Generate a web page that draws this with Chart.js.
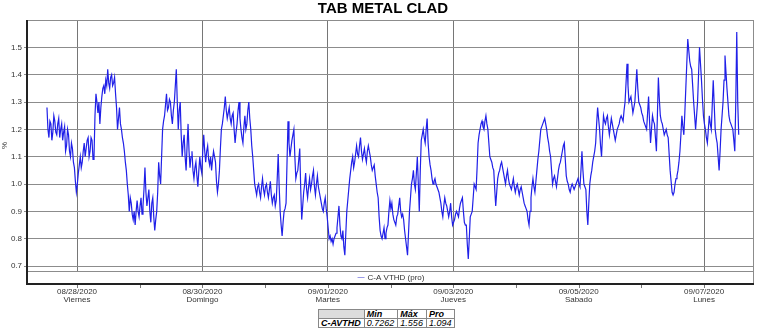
<!DOCTYPE html>
<html>
<head>
<meta charset="utf-8">
<script src="https://cdn.jsdelivr.net/npm/chart.js@4.4.0/dist/chart.umd.min.js"></script>
<style>
  body { margin: 0; background: #fff; font-family: "Liberation Sans", Arial, sans-serif; }
  #wrap { position: relative; width: 762px; height: 333px; }
  #stats { position: absolute; left: 318px; top: 309px; border-collapse: collapse; font-size: 9px; line-height: 8px; }
  #stats td { border: 1px solid #888; padding: 0 3px 0 2px; font-style: italic; color: #000; }
  #stats tr:first-child td { font-weight: bold; }
  #stats td.name { font-weight: bold; }
  #stats td.blank { background: #ddd; }
</style>
</head>
<body>
<div id="wrap">
  <canvas id="chart" width="762" height="305"></canvas>
  <table id="stats"></table>
</div>
<script>
// series: C-A VTHD (pro), one value every 22.5 min from 08/27 12:30
const startHour = 12.5;
const stepHours = 0.375;
const vthd = [
  1.28, 1.2, 1.17, 1.23, 1.22, 1.16, 1.19, 1.25, 1.23, 1.19,
  1.18, 1.22, 1.24, 1.17, 1.2, 1.22, 1.16, 1.19, 1.21, 1.12,
  1.14, 1.2, 1.18, 1.12, 1.1, 1.15, 1.13, 1.08, 1.06, 1.01,
  0.97, 1.0, 1.04, 1.07, 1.1, 1.06, 1.08, 1.12, 1.15, 1.1,
  1.13, 1.16, 1.17, 1.1, 1.12, 1.17, 1.16, 1.09, 1.1, 1.25,
  1.33, 1.3, 1.26, 1.3, 1.22, 1.28, 1.32, 1.35, 1.36, 1.33,
  1.38, 1.36, 1.42, 1.37, 1.35, 1.39, 1.4, 1.36, 1.37, 1.39,
  1.33, 1.28, 1.2, 1.24, 1.28, 1.22, 1.2, 1.17, 1.15, 1.12,
  1.08, 1.05, 1.0, 0.96, 0.9, 0.95, 0.93, 0.89, 0.87, 0.9,
  0.85, 0.9, 0.94, 0.9, 0.88, 0.92, 0.95, 0.89, 0.92, 0.98,
  1.06, 0.97, 0.92, 0.95, 0.98, 0.9, 0.86, 0.93, 0.95, 0.88,
  0.83, 0.87, 0.9, 0.97, 1.08, 1.03, 1.0, 1.1, 1.2, 1.23,
  1.25, 1.29, 1.33, 1.27, 1.28, 1.31, 1.3, 1.25, 1.22, 1.27,
  1.3, 1.36, 1.42, 1.3, 1.2, 1.27, 1.3, 1.18, 1.1, 1.15,
  1.18, 1.1, 1.05, 1.14, 1.22, 1.12, 1.06, 1.1, 1.12, 1.05,
  1.02, 1.06, 1.08, 1.03, 0.99, 1.05, 1.1, 1.06, 1.04, 1.12,
  1.18, 1.12, 1.08, 1.12, 1.14, 1.09, 1.07, 1.1, 1.05, 1.09,
  1.12, 1.1, 1.08, 1.01, 0.97, 1.0, 1.05, 1.13, 1.2, 1.22,
  1.25, 1.28, 1.32, 1.27, 1.24, 1.26, 1.28, 1.24, 1.22, 1.25,
  1.26, 1.2, 1.15, 1.19, 1.22, 1.27, 1.3, 1.24, 1.2, 1.17,
  1.15, 1.21, 1.25, 1.2, 1.22, 1.27, 1.3, 1.24, 1.2, 1.14,
  1.1, 1.05, 1.0, 0.98, 0.96, 0.99, 1.0, 0.97, 0.95, 0.99,
  1.02, 0.98, 0.96, 0.99, 1.0, 0.97, 0.95, 0.98, 1.01, 0.96,
  0.93, 0.95, 0.96, 0.92, 0.94, 1.02, 1.11, 0.99, 0.9, 0.85,
  0.81, 0.86, 0.9, 0.91, 0.93, 1.08, 1.23, 1.15, 1.1, 1.13,
  1.16, 1.18, 1.2, 1.1, 1.02, 1.04, 1.05, 1.09, 1.13, 0.98,
  0.87, 0.92, 0.97, 1.0, 1.04, 0.98, 0.95, 0.99, 1.02, 0.98,
  1.0, 1.03, 1.05, 0.99, 0.96, 1.0, 1.03, 0.99, 0.97, 0.95,
  0.93, 0.91, 0.9, 0.93, 0.95, 0.91, 0.88, 0.84, 0.8, 0.81,
  0.79, 0.8, 0.78, 0.8, 0.81, 0.82, 0.84, 0.88, 0.92, 0.85,
  0.81, 0.8, 0.83, 0.77, 0.74, 0.82, 0.9, 0.94, 0.98, 1.02,
  1.05, 1.08, 1.1, 1.06, 1.08, 1.11, 1.14, 1.11, 1.1, 1.14,
  1.17, 1.12, 1.09, 1.11, 1.13, 1.1, 1.08, 1.12, 1.14, 1.12,
  1.1, 1.07, 1.05, 1.06, 1.07, 1.03, 1.0, 0.97, 0.95, 0.88,
  0.83, 0.81, 0.8, 0.82, 0.84, 0.8, 0.82, 0.84, 0.85, 0.9,
  0.94, 0.91, 0.93, 0.89, 0.87, 0.86, 0.85, 0.88, 0.89, 0.92,
  0.95, 0.9, 0.88, 0.89, 0.87, 0.83, 0.8, 0.77, 0.74, 0.82,
  0.9, 0.95, 1.0, 1.02, 1.05, 1.0, 0.98, 1.04, 1.1, 1.0,
  0.9, 1.05, 1.16, 1.18, 1.2, 1.17, 1.15, 1.2, 1.24, 1.15,
  1.1, 1.07, 1.05, 1.02, 1.0, 1.01, 1.02, 1.0, 0.99, 0.98,
  0.97, 0.95, 0.93, 0.9, 0.88, 0.92, 0.95, 0.93, 0.92, 0.9,
  0.88, 0.9, 0.93, 0.88, 0.85, 0.86, 0.87, 0.89, 0.9, 0.89,
  0.88, 0.91, 0.93, 0.94, 0.95, 0.9, 0.86, 0.85, 0.85, 0.78,
  0.7262, 0.8, 0.88, 0.89, 0.9, 0.95, 1.0, 0.99, 0.98, 1.06,
  1.15, 1.18, 1.2, 1.22, 1.23, 1.21, 1.2, 1.23, 1.25, 1.22,
  1.2, 1.15, 1.1, 1.09, 1.08, 1.06, 1.05, 0.98, 0.92, 0.97,
  1.02, 1.04, 1.05, 1.07, 1.08, 1.06, 1.04, 1.02, 1.0, 1.03,
  1.05, 1.02, 1.0, 0.99, 0.98, 1.0, 1.02, 0.99, 0.97, 0.99,
  1.0, 0.98, 0.96, 0.98, 0.99, 0.97, 0.95, 0.93, 0.92, 0.91,
  0.9, 0.87, 0.85, 0.9, 0.95, 0.99, 1.02, 0.99, 0.97, 1.01,
  1.05, 1.09, 1.12, 1.16, 1.2, 1.21, 1.22, 1.23, 1.24, 1.22,
  1.2, 1.17, 1.15, 1.12, 1.1, 1.05, 1.0, 1.02, 1.03, 1.01,
  0.99, 1.02, 1.05, 1.07, 1.08, 1.1, 1.12, 1.14, 1.15, 1.09,
  1.03, 1.01, 1.0, 0.98, 0.97, 0.99, 1.0, 0.99, 0.98, 0.99,
  1.0, 1.01, 1.02, 1.0, 0.99, 1.05, 1.12, 1.05, 1.0, 0.99,
  0.98, 0.9, 0.85, 0.93, 1.0, 1.03, 1.05, 1.08, 1.1, 1.12,
  1.15, 1.22, 1.28, 1.24, 1.2, 1.14, 1.1, 1.18, 1.25, 1.23,
  1.22, 1.24, 1.25, 1.21, 1.18, 1.21, 1.24, 1.22, 1.2, 1.18,
  1.16, 1.18, 1.2, 1.21, 1.22, 1.24, 1.25, 1.24, 1.23, 1.27,
  1.3, 1.37, 1.44, 1.36, 1.3, 1.31, 1.32, 1.29, 1.26, 1.28,
  1.3, 1.36, 1.42, 1.35, 1.3, 1.29, 1.28, 1.26, 1.25, 1.23,
  1.22, 1.21, 1.2, 1.26, 1.32, 1.23, 1.15, 1.2, 1.25, 1.23,
  1.22, 1.17, 1.12, 1.25, 1.39, 1.31, 1.25, 1.23, 1.22, 1.2,
  1.18, 1.19, 1.2, 1.18, 1.17, 1.11, 1.05, 1.01, 0.97, 0.96,
  0.97, 1.0, 1.02, 1.03, 1.05, 1.08, 1.12, 1.18, 1.25, 1.21,
  1.18, 1.26, 1.35, 1.44, 1.53, 1.49, 1.45, 1.43, 1.42, 1.36,
  1.3, 1.25, 1.2, 1.25, 1.3, 1.4, 1.5, 1.44, 1.38, 1.31,
  1.25, 1.22, 1.2, 1.17, 1.15, 1.2, 1.25, 1.22, 1.2, 1.29,
  1.38, 1.29, 1.2, 1.17, 1.15, 1.1, 1.05, 1.12, 1.2, 1.25,
  1.3, 1.38, 1.47, 1.41, 1.35, 1.3, 1.25, 1.23, 1.22, 1.21,
  1.2, 1.16, 1.12, 1.3, 1.556, 1.3, 1.18
];

// x axis: hours since 08/27/2020 00:00
const xTickHours = [24, 72, 120, 168, 216, 264];
const xTickDates = ["08/28/2020", "08/30/2020", "09/01/2020", "09/03/2020", "09/05/2020", "09/07/2020"];
const xTickDays = ["Viernes", "Domingo", "Martes", "Jueves", "Sabado", "Lunes"];
const yTicks = [0.7, 0.8, 0.9, 1.0, 1.1, 1.2, 1.3, 1.4, 1.5];

const chartTitle = "TAB METAL CLAD";
const seriesName = "C-A VTHD (pro)";
const statName = "C-AVTHD";
const statHeaders = ["Min", "Máx", "Pro"];
const statValues = ["0.7262", "1.556", "1.094"];

const lineColor = "#2020e8";
const fontFamily = "'Liberation Sans', Arial, sans-serif";

const points = vthd.map((v, i) => ({ x: startHour + i * stepHours, y: v }));

// title, frame, legend band and day ticks like the original report
const framePlugin = {
  id: "frame",
  afterDraw(chart) {
    const { ctx, chartArea: a } = chart;
    const bandBottom = a.bottom + 12;
    ctx.save();
    ctx.fillStyle = "#000";
    ctx.font = "bold 15px " + fontFamily;
    ctx.textAlign = "center";
    ctx.textBaseline = "middle";
    ctx.fillText(chartTitle, 383, 9);
    ctx.textAlign = "left";

    ctx.fillStyle = "#8c8c8c";
    ctx.fillRect(a.left, a.top, a.right - a.left, 1);
    ctx.fillRect(a.right - 1, a.top, 1, bandBottom - a.top);
    ctx.fillRect(a.left, a.bottom, a.right - a.left, 1);
    ctx.fillStyle = "#222";
    ctx.fillRect(a.left - 2, a.top, 2, bandBottom - a.top + 2);
    ctx.fillRect(a.left - 2, bandBottom, a.right - a.left + 2, 2);
    // daily ticks under the axis
    const xs = chart.scales.x;
    ctx.fillStyle = "#777";
    for (let h = 24; h <= xs.max; h += 24) {
      const px = Math.round(xs.getPixelForValue(h));
      ctx.fillRect(px, bandBottom + 2, 1, 3);
    }
    // legend inside the band
    ctx.font = "8px " + fontFamily;
    const tw = ctx.measureText(seriesName).width;
    const cx = (a.left + a.right) / 2;
    const ly = a.bottom + 6.5;
    const x0 = cx - (tw + 10) / 2;
    ctx.strokeStyle = "#9a9ae8";
    ctx.lineWidth = 1;
    ctx.beginPath();
    ctx.moveTo(x0, ly);
    ctx.lineTo(x0 + 7, ly);
    ctx.stroke();
    ctx.fillStyle = "#333";
    ctx.fillText(seriesName, x0 + 10, ly);
    ctx.restore();
  }
};

new Chart(document.getElementById("chart"), {
  type: "line",
  data: {
    datasets: [{
      label: seriesName,
      data: points,
      borderColor: lineColor,
      borderWidth: 1.2,
      pointRadius: 0,
      tension: 0,
      fill: false
    }]
  },
  options: {
    responsive: false,
    animation: false,
    devicePixelRatio: 1,
    layout: { padding: { left: 0, right: 8, top: 20, bottom: 0 } },
    plugins: {
      legend: { display: false },
      tooltip: { enabled: false },
      title: { display: false }
    },
    scales: {
      x: {
        type: "linear",
        min: 5.24,
        max: 283.1,
        afterFit: (s) => { s.height = 34; },
        afterBuildTicks: (s) => { s.ticks = xTickHours.map(v => ({ value: v })); },
        grid: { color: "#767676", lineWidth: 1, drawTicks: false },
        border: { display: false },
        ticks: {
          padding: 17,
          maxRotation: 0,
          autoSkip: false,
          color: "#333",
          font: { family: fontFamily, size: 8, lineHeight: 1 },
          callback: (v) => {
            const i = xTickHours.indexOf(v);
            return i < 0 ? "" : [xTickDates[i], xTickDays[i]];
          }
        }
      },
      y: {
        min: 0.682,
        max: 1.6,
        afterFit: (s) => { s.width = 28; },
        afterBuildTicks: (s) => { s.ticks = yTicks.map(v => ({ value: v })); },
        grid: { color: "#8c8c8c", lineWidth: 1, tickLength: 4, drawTicks: true },
        border: { display: false },
        title: {
          display: true,
          text: "%",
          color: "#333",
          font: { family: fontFamily, size: 8 },
          padding: { top: 0, bottom: 0 }
        },
        ticks: {
          padding: 2,
          color: "#333",
          font: { family: fontFamily, size: 8 },
          callback: (v) => Number(v).toFixed(1)
        }
      }
    }
  },
  plugins: [framePlugin]
});

// statistics table under the chart
const table = document.getElementById("stats");
table.innerHTML =
  "<tr><td class='blank'></td>" + statHeaders.map(h => "<td>" + h + "</td>").join("") + "</tr>" +
  "<tr><td class='name'>" + statName + "</td>" + statValues.map(v => "<td>" + v + "</td>").join("") + "</tr>";
</script>
</body>
</html>
